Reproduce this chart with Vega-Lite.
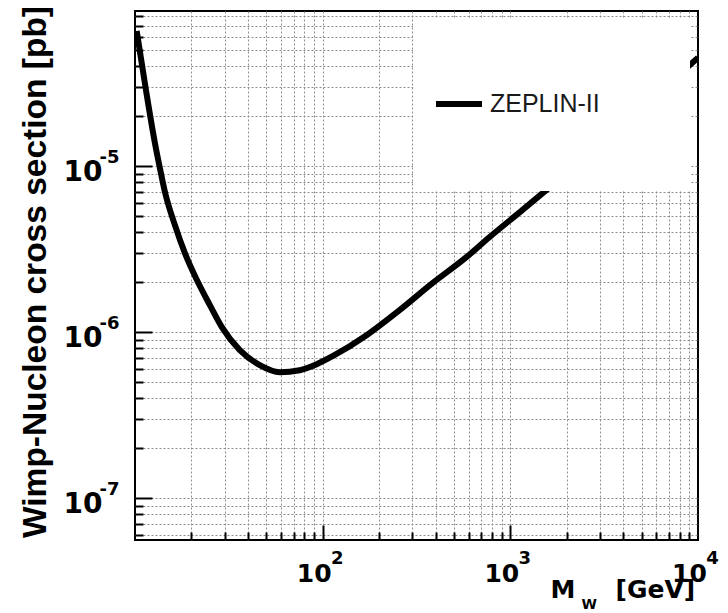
{
  "$schema": "https://vega.github.io/schema/vega-lite/v6.json",
  "autosize": {"type": "none"},
  "width": 563,
  "height": 529,
  "padding": {"left": 135, "top": 11, "right": 30, "bottom": 73},
  "background": "white",
  "config": {
    "view": {"stroke": "black", "strokeWidth": 2},
    "axis": {"labelFlush": false, "labelOverlap": false, "labelBound": false}
  },
  "data": {
    "values": [
      {"experiment": "ZEPLIN-II", "mass_gev": 10.21, "sigma_pb": 6.51e-5},
      {"experiment": "ZEPLIN-II", "mass_gev": 11.44, "sigma_pb": 2.87e-5},
      {"experiment": "ZEPLIN-II", "mass_gev": 12.78, "sigma_pb": 1.37e-5},
      {"experiment": "ZEPLIN-II", "mass_gev": 13.53, "sigma_pb": 9.9e-6},
      {"experiment": "ZEPLIN-II", "mass_gev": 14.5, "sigma_pb": 6.85e-6},
      {"experiment": "ZEPLIN-II", "mass_gev": 16.32, "sigma_pb": 4.41e-6},
      {"experiment": "ZEPLIN-II", "mass_gev": 18.45, "sigma_pb": 2.99e-6},
      {"experiment": "ZEPLIN-II", "mass_gev": 21.37, "sigma_pb": 2.06e-6},
      {"experiment": "ZEPLIN-II", "mass_gev": 25.06, "sigma_pb": 1.455e-6},
      {"experiment": "ZEPLIN-II", "mass_gev": 29.02, "sigma_pb": 1.072e-6},
      {"experiment": "ZEPLIN-II", "mass_gev": 36.18, "sigma_pb": 7.79e-7},
      {"experiment": "ZEPLIN-II", "mass_gev": 46.22, "sigma_pb": 6.33e-7},
      {"experiment": "ZEPLIN-II", "mass_gev": 59.04, "sigma_pb": 5.74e-7},
      {"experiment": "ZEPLIN-II", "mass_gev": 75.44, "sigma_pb": 5.9e-7},
      {"experiment": "ZEPLIN-II", "mass_gev": 92.93, "sigma_pb": 6.41e-7},
      {"experiment": "ZEPLIN-II", "mass_gev": 113.0, "sigma_pb": 7.17e-7},
      {"experiment": "ZEPLIN-II", "mass_gev": 171.4, "sigma_pb": 9.59e-7},
      {"experiment": "ZEPLIN-II", "mass_gev": 256.8, "sigma_pb": 1.357e-6},
      {"experiment": "ZEPLIN-II", "mass_gev": 384.7, "sigma_pb": 1.973e-6},
      {"experiment": "ZEPLIN-II", "mass_gev": 583.3, "sigma_pb": 2.83e-6},
      {"experiment": "ZEPLIN-II", "mass_gev": 773.2, "sigma_pb": 3.73e-6},
      {"experiment": "ZEPLIN-II", "mass_gev": 1158, "sigma_pb": 5.43e-6},
      {"experiment": "ZEPLIN-II", "mass_gev": 1554, "sigma_pb": 7.17e-6},
      {"experiment": "ZEPLIN-II", "mass_gev": 2975, "sigma_pb": 1.338e-5},
      {"experiment": "ZEPLIN-II", "mass_gev": 5487, "sigma_pb": 2.46e-5},
      {"experiment": "ZEPLIN-II", "mass_gev": 10000, "sigma_pb": 4.5e-5}
    ]
  },
  "layer": [
    {
      "mark": {"type": "line", "strokeWidth": 6, "interpolate": "monotone", "strokeCap": "butt", "strokeJoin": "round", "clip": true},
      "encoding": {
        "x": {
          "field": "mass_gev", "type": "quantitative",
          "scale": {"type": "log", "domain": [10, 10000], "nice": false},
          "axis": {
            "orient": "bottom",
            "values": [20, 30, 40, 50, 60, 70, 80, 90, 100, 200, 300, 400, 500, 600, 700, 800, 900, 1000, 2000, 3000, 4000, 5000, 6000, 7000, 8000, 9000],
            "labels": false,
            "domain": false,
            "ticks": true,
            "tickColor": "black",
            "tickWidth": 2,
            "tickSize": {"condition": {"test": "abs(log(datum.value)/LN10 - round(log(datum.value)/LN10)) < 1e-6", "value": -15}, "value": -8},
            "grid": true,
            "gridColor": "#8c8c8c",
            "gridDash": [2, 2],
            "gridWidth": 1,
            "title": "M",
            "titleFont": "DejaVu Sans",
            "titleFontWeight": "bold",
            "titleFontSize": 25,
            "titleColor": "black",
            "titleAlign": "left",
            "titleBaseline": "alphabetic",
            "titleX": 415,
            "titleY": 57
          }
        },
        "y": {
          "field": "sigma_pb", "type": "quantitative",
          "scale": {"type": "log", "domain": [5.6e-8, 8.6e-5], "nice": false},
          "axis": {
            "orient": "left",
            "values": [6e-8, 7e-8, 8e-8, 9e-8, 1e-7, 2e-7, 3e-7, 4e-7, 5e-7, 6e-7, 7e-7, 8e-7, 9e-7, 1e-6, 2e-6, 3e-6, 4e-6, 5e-6, 6e-6, 7e-6, 8e-6, 9e-6, 1e-5, 2e-5, 3e-5, 4e-5, 5e-5, 6e-5, 7e-5, 8e-5],
            "labels": false,
            "domain": false,
            "ticks": true,
            "tickColor": "black",
            "tickWidth": 2,
            "tickSize": {"condition": {"test": "abs(log(datum.value)/LN10 - round(log(datum.value)/LN10)) < 1e-6", "value": -17}, "value": -8},
            "grid": true,
            "gridColor": "#8c8c8c",
            "gridDash": [2, 2],
            "gridWidth": 1,
            "title": "Wimp-Nucleon cross section [pb]",
            "titleFont": "Liberation Sans",
            "titleFontWeight": "bold",
            "titleFontSize": 33.5,
            "titleColor": "black",
            "titleAngle": -90,
            "titleAlign": "center",
            "titleBaseline": "alphabetic",
            "titleX": -90,
            "titleY": 260.5
          }
        },
        "color": {
          "field": "experiment", "type": "nominal",
          "scale": {"range": ["black"]},
          "legend": {
            "orient": "none",
            "legendX": 278,
            "legendY": 7,
            "title": "\u200b",
            "titleFontSize": 20,
            "titlePadding": 20,
            "zindex": 1,
            "fillColor": "white",
            "padding": 20,
            "symbolType": "stroke",
            "symbolStrokeWidth": 6,
            "symbolSize": 2116,
            "labelFont": "Liberation Sans",
            "labelFontSize": 25,
            "labelColor": "#1a1a1a",
            "labelOffset": 5,
            "labelLimit": 400,
            "labelExpr": "[datum.label + '          \u200b', '\u200b', '\u200b']"
          }
        }
      }
    },
    {
      "mark": {"type": "line", "opacity": 0},
      "encoding": {
        "x": {
          "field": "mass_gev", "type": "quantitative",
          "scale": {"type": "log", "domain": [10, 10000], "nice": false},
          "axis": {
            "orient": "bottom",
            "values": [100, 1000, 10000],
            "labelExpr": "'10'",
            "ticks": false, "domain": false, "grid": false,
            "labelFont": "DejaVu Sans", "labelFontWeight": "bold", "labelFontSize": 25, "labelColor": "black",
            "labelAlign": "center", "labelBaseline": "alphabetic",
            "labelPadding": 41, "labelOffset": -9,
            "title": "W",
            "titleFont": "DejaVu Sans", "titleFontWeight": "bold", "titleFontSize": 14, "titleColor": "black",
            "titleAlign": "left", "titleBaseline": "alphabetic",
            "titleX": 446, "titleY": 68
          }
        },
        "y": {
          "field": "sigma_pb", "type": "quantitative",
          "scale": {"type": "log", "domain": [5.6e-8, 8.6e-5], "nice": false},
          "axis": {
            "orient": "left",
            "values": [1e-7, 1e-6, 1e-5],
            "labelExpr": "'10'",
            "ticks": false, "domain": false, "grid": false,
            "labelFont": "DejaVu Sans", "labelFontWeight": "bold", "labelFontSize": 28, "labelColor": "black",
            "labelAlign": "right", "labelBaseline": "alphabetic",
            "labelPadding": 33, "labelOffset": 14.5,
            "title": null
          }
        }
      }
    },
    {
      "mark": {"type": "line", "opacity": 0},
      "encoding": {
        "x": {
          "field": "mass_gev", "type": "quantitative",
          "scale": {"type": "log", "domain": [10, 10000], "nice": false},
          "axis": {
            "orient": "bottom",
            "values": [100, 1000, 10000],
            "labelExpr": "'' + round(log(datum.value)/LN10)",
            "ticks": false, "domain": false, "grid": false,
            "labelFont": "DejaVu Sans", "labelFontWeight": "bold", "labelFontSize": 18, "labelColor": "black",
            "labelAlign": "center", "labelBaseline": "alphabetic",
            "labelPadding": 23, "labelOffset": 14,
            "title": "[GeV]",
            "titleFont": "DejaVu Sans", "titleFontWeight": "bold", "titleFontSize": 25, "titleColor": "black",
            "titleAlign": "left", "titleBaseline": "alphabetic",
            "titleX": 480, "titleY": 57
          }
        },
        "y": {
          "field": "sigma_pb", "type": "quantitative",
          "scale": {"type": "log", "domain": [5.6e-8, 8.6e-5], "nice": false},
          "axis": {
            "orient": "left",
            "values": [1e-7, 1e-6, 1e-5],
            "labelExpr": "'' + round(log(datum.value)/LN10)",
            "ticks": false, "domain": false, "grid": false,
            "labelFont": "DejaVu Sans", "labelFontWeight": "bold", "labelFontSize": 18, "labelColor": "black",
            "labelAlign": "right", "labelBaseline": "alphabetic",
            "labelPadding": 16, "labelOffset": -4,
            "title": null
          }
        }
      }
    }
  ],
  "resolve": {"axis": {"x": "independent", "y": "independent"}}
}
